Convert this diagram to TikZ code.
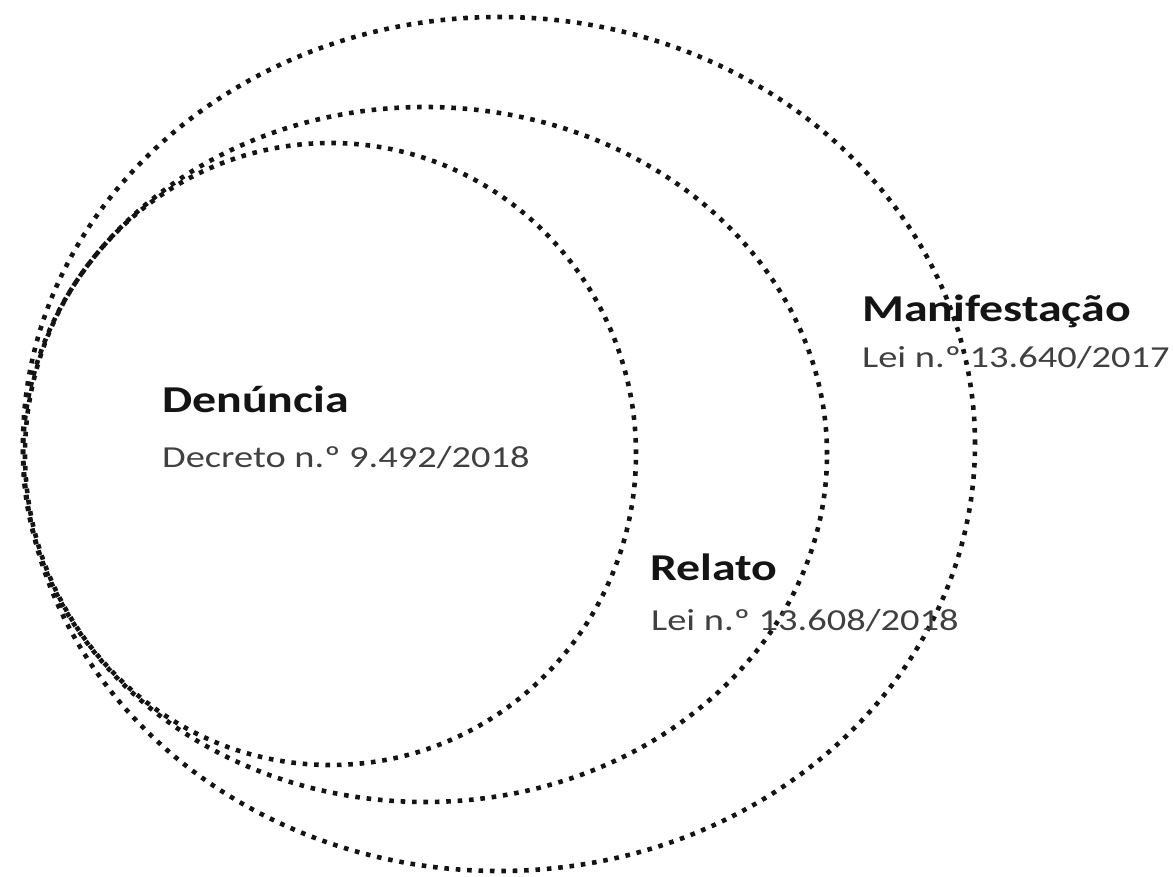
\documentclass[tikz,border=0pt]{standalone}
\usepackage{fontspec}
\setmainfont{Carlito}
\usetikzlibrary{shapes.geometric}
\definecolor{dotblack}{RGB}{20,20,20}
\definecolor{lawgray}{RGB}{64,64,64}
\newcommand{\wide}[1]{\scalebox{1.26}[1]{#1}}
\tikzset{
  ring/.style={
    draw=dotblack,
    ellipse,
    line width=4.6pt,
    dash pattern=on 4.6pt off 6.8pt,
    inner sep=0pt
  },
  title/.style={anchor=base west, inner sep=0pt, text=dotblack,
    font=\bfseries\fontsize{38}{40}\selectfont},
  law/.style={anchor=base west, inner sep=0pt, text=lawgray,
    font=\fontsize{30.5}{32}\selectfont}
}

\begin{document}
\begin{tikzpicture}[x=1pt, y=-1pt]
  \useasboundingbox (0,0) rectangle (1173,877);

  % the three sets
  \node[ring, minimum width=952pt, minimum height=854pt] (outer) at (499,444) {};
  \node[ring, minimum width=804pt, minimum height=695pt] (middle) at (425,454.5) {};
  \node[ring, minimum width=611pt, minimum height=622pt] (inner) at (330.5,454) {};

  % labels
  \node[title] (denuncia) at (162,412) {\wide{Denúncia}};
  \node[law] (decreto) at (162,467) {\wide{Decreto n.º 9.492/2018}};

  \node[title] (relato) at (650,580) {\wide{Relato}};
  \node[law] (leirelato) at (651,630) {\wide{Lei n.º 13.608/2018}};

  \node[title] (manif) at (862,322) {\wide{Manifestação}};
  \node[law] (leimanif) at (862,367) {\wide{Lei n.º 13.640/2017}};
\end{tikzpicture}
\end{document}
